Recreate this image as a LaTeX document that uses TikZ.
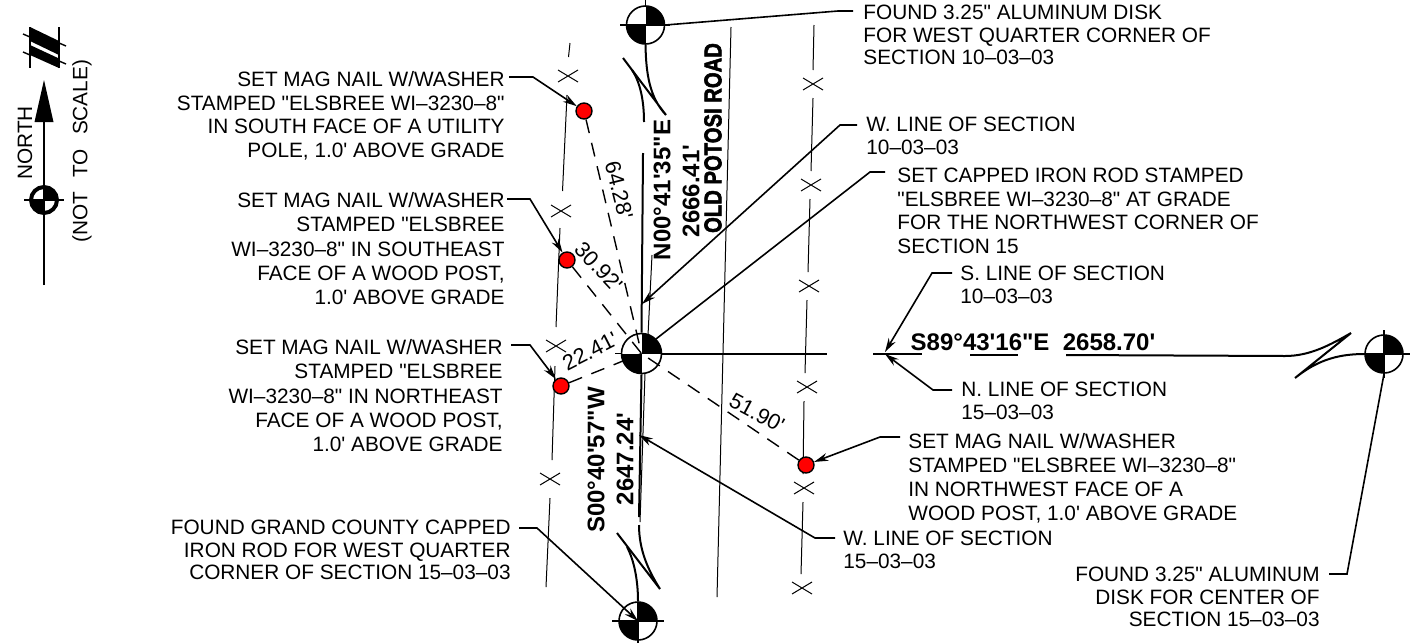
\documentclass[tikz,border=0pt]{standalone}
\usepackage{fontspec}
\newfontfamily\cadfont[WordSpace=1.6]{Liberation Sans}
\newfontfamily\boldfont{Liberation Sans}
\newfontfamily\roadfont[FakeBold=2.5]{Liberation Sans Bold}
\usetikzlibrary{arrows.meta}
\tikzset{
 lbl/.style={inner sep=0pt,font=\cadfont\fontsize{10.4}{#1}\selectfont},
 lblL/.style={lbl=#1,anchor=north west,align=left},
 lblR/.style={lbl=#1,anchor=north east,align=right},
 bear/.style={inner sep=0pt,rotate=90,font=\boldfont\bfseries\fontsize{12}{13}\selectfont},
 leader/.style={line width=0.8pt,-{Stealth[length=7pt,width=4pt]}},
 plainlead/.style={line width=0.8pt},
 wline/.style={line width=1pt},
 thinl/.style={line width=0.5pt},
 tie/.style={line width=0.7pt,dash pattern=on 7pt off 5pt},
 dist/.style={inner sep=0pt,font=\cadfont\fontsize{10.9}{11}\selectfont},
 nail/.style={circle,draw=black,fill=red,line width=0.7pt,minimum size=8pt,inner sep=0pt},
 monu/.style={circle,draw=black,line width=0.8pt,minimum size=19pt,inner sep=0pt,
   path picture={
     \fill[black] (path picture bounding box.center) rectangle (path picture bounding box.north east);
     \fill[black] (path picture bounding box.center) rectangle (path picture bounding box.south west);
   }},
 nmon/.style={circle,draw=black,line width=2pt,minimum size=13pt,inner sep=0pt,
   path picture={
     \fill[black] (path picture bounding box.center) rectangle (path picture bounding box.north east);
     \fill[black] (path picture bounding box.center) rectangle (path picture bounding box.south west);
   }},
}
\newcommand{\xmark}[2]{\draw[thinl] (#1-10,#2-6)--(#1+10,#2+6) (#1-10,#2+6)--(#1+10,#2-6);}
\begin{document}
\begin{tikzpicture}[x=0.5pt,y=-0.5pt]
\useasboundingbox (0,0) rectangle (1416,643);
\fill[white] (0,0) rectangle (1416,643);

% north arrow
\coordinate (nA) at (44,285); \coordinate (nB) at (44,122); \coordinate (nT) at (44,80);
\node[nmon] (nm) at (44,200) {};
\draw[line width=0.9pt] (nA)--(nB);
\draw[line width=0.7pt] (24,200)--(64,200);
\fill (nT)--(53.5,122)--(34.5,122)--cycle;
\fill (30,27)--(59,41)--(59,55)--(30,41)--cycle;
\fill (30,45)--(59,58.5)--(59,68)--(30,55)--cycle;
\draw[line width=0.9pt] (30,27)--(30,68) (59,27)--(59,68);
\draw[line width=0.7pt] (23,34)--(30,37) (59,43)--(66,46) (23,52)--(30,55) (59,61)--(66,64);
\node[lbl=12,rotate=90] (north) at (25,143) {NORTH};
\node[lbl=12,rotate=90] (nts) at (82,151) {(NOT\hspace{7pt}TO\hspace{7pt}SCALE)};

% fence lines
\draw[thinl] (570,43)--(568.5,57) (567,95)--(562.5,191) (560,228)--(556,327) (555,366)--(552,460) (550,498)--(546,587);
\xmark{568}{76}\xmark{561}{211}\xmark{556}{346}\xmark{550}{479}
\draw[thinl] (814,25)--(813,70) (813,98)--(811,171) (810,199)--(808,272) (807,300)--(805,373) (804,401)--(803,474) (803,502)--(801,574);
\xmark{813}{84}\xmark{811}{185}\xmark{809}{286}\xmark{807}{387}\xmark{804}{488}\xmark{802}{588}
% road
\draw[thinl] (731,27)--(717,597);
\draw[thinl] (652,255)--(648,335) (645,373)--(640,522);

% monuments
\node[monu] (m1) at (645.5,25) {};
\node[monu,minimum size=20pt] (m2) at (641.5,353.5) {};
\node[monu] (m3) at (638,621) {};
\node[monu] (m4) at (1384,354) {};
\draw[plainlead] (620,25)--(670,25) (645.5,0)--(645.5,6);
\draw[plainlead] (615,353.5)--(622,353.5) (612,621)--(664,621) (638,602)--(638,643);
\draw[plainlead] (1360,354)--(1410,354) (1384,330)--(1384,378);

% section lines and break marks
\draw[wline] (m1.south) .. controls (646,75) and (650,98) .. (666,115) -- (623,58);
\draw[wline] (632,70) .. controls (640,82) and (644,100) .. (644,122);
\draw[wline] (643,153)--(m2.north);
\draw[wline] (m2.south)--(639,517);
\draw[wline] (639,525) .. controls (639,550) and (648,570) .. (660,589) -- (617,533);
\draw[wline] (627,547) .. controls (634,560) and (638,580) .. (m3.north);
\draw[wline] (m2.east)--(827,353.5);
\draw[wline] (873,354)--(922,354) (970,355)--(1018,355);
\draw[wline] (1066,355)--(1285,356) .. controls (1310,356) and (1330,345) .. (1351,333) -- (1295,378) .. controls (1315,362) and (1335,354) .. (m4.west);

% nails and ties
\node[nail] (n1) at (584,111) {};
\node[nail] (n2) at (567,260) {};
\node[nail] (n3) at (561,386) {};
\node[nail] (n4) at (806,465) {};
\draw[tie] (n1)--(m2.center);
\draw[tie] (n2)--(m2.center);
\draw[tie] (n3)--(m2.center);
\draw[tie] (n4)--(m2.center);
\node[dist,rotate=-76] (d1) at (619,190) {64.28'};
\node[dist,rotate=-47] (d2) at (599,267) {30.92'};
\node[dist,rotate=27] (d3) at (590,351) {22.41'};
\node[dist,rotate=-28] (d4) at (757,413) {51.90'};

% bearings
\node[bear] (b1) at (662,190) {N00°41'35"E};
\node[bear] (b2) at (691,191) {2666.41'};
\node[bear,xscale=0.83,font=\roadfont\fontsize{12.2}{13}\selectfont] (road) at (713,138) {OLD POTOSI ROAD};
\node[bear] (b3) at (596,460) {S00°40'57"W};
\node[bear] (b4) at (625,459) {2647.24'};
\node[bear,rotate=-90] (b5) at (1033,342) {S89°43'16"E\ \ 2658.70'};

% labels on the left
\node[lblR=11.8] (l1) at (505,71) {SET MAG NAIL W/WASHER\\STAMPED "ELSBREE WI–3230–8"\\IN SOUTH FACE OF A UTILITY\\POLE, 1.0' ABOVE GRADE};
\node[lblR=12.15] (l2) at (505,192) {SET MAG NAIL W/WASHER\\STAMPED "ELSBREE\\WI–3230–8" IN SOUTHEAST\\FACE OF A WOOD POST,\\1.0' ABOVE GRADE};
\node[lblR=12.15] (l3) at (503,339) {SET MAG NAIL W/WASHER\\STAMPED "ELSBREE\\WI–3230–8" IN NORTHEAST\\FACE OF A WOOD POST,\\1.0' ABOVE GRADE};
\node[lblR=11.1] (l4) at (511,520) {FOUND GRAND COUNTY CAPPED\\IRON ROD FOR WEST QUARTER\\CORNER OF SECTION 15–03–03};
% labels on the right
\node[lblL=11.25] (r1) at (863,5) {FOUND 3.25" ALUMINUM DISK\\FOR WEST QUARTER CORNER OF\\SECTION 10–03–03};
\node[lblL=11.5] (r2) at (866,117) {W. LINE OF SECTION\\10–03–03};
\node[lblL=11.7] (r3) at (897,168) {SET CAPPED IRON ROD STAMPED\\"ELSBREE WI–3230–8" AT GRADE\\FOR THE NORTHWEST CORNER OF\\SECTION 15};
\node[lblL=11.2] (r4) at (960,266) {S. LINE OF SECTION\\10–03–03};
\node[lblL=11.4] (r5) at (961,382) {N. LINE OF SECTION\\15–03–03};
\node[lblL=12] (r6) at (908,433) {SET MAG NAIL W/WASHER\\STAMPED "ELSBREE WI–3230–8"\\IN NORTHWEST FACE OF A\\WOOD POST, 1.0' ABOVE GRADE};
\node[lblL=11.2] (r7) at (843,531) {W. LINE OF SECTION\\15–03–03};
\node[lblR=11.2] (r8) at (1320,567) {FOUND 3.25" ALUMINUM\\DISK FOR CENTER OF\\SECTION 15–03–03};

% leaders
\coordinate (t10) at (642,304);
\coordinate (t15) at (639,435);
\coordinate (tS) at (885,352);
\coordinate (tN) at (885,354);
\draw[leader] (509,77)--(533,77)--(n1);
\draw[leader] (507,199)--(530,199)--(n2);
\draw[leader] (511,345)--(530,345)--(n3);
\draw[leader] (519,528)--(537,528)--(m3.center);
\draw[leader] (900,437)--(880,437)--(n4);
\draw[leader] (857,125)--(840,125)--(t10);
\draw[leader] (835,538)--(815,538)--(t15);
\draw[leader] (952,273)--(932,273)--(tS);
\draw[leader] (952,390)--(933,390)--(tN);
\draw[plainlead] (m1.east)--(838,11)--(853,11);
\draw[plainlead] (885,172)--(870,172)--(m2.north east);
\draw[plainlead] (1329,574)--(1347,574)--(m4.south);
\end{tikzpicture}
\end{document}
